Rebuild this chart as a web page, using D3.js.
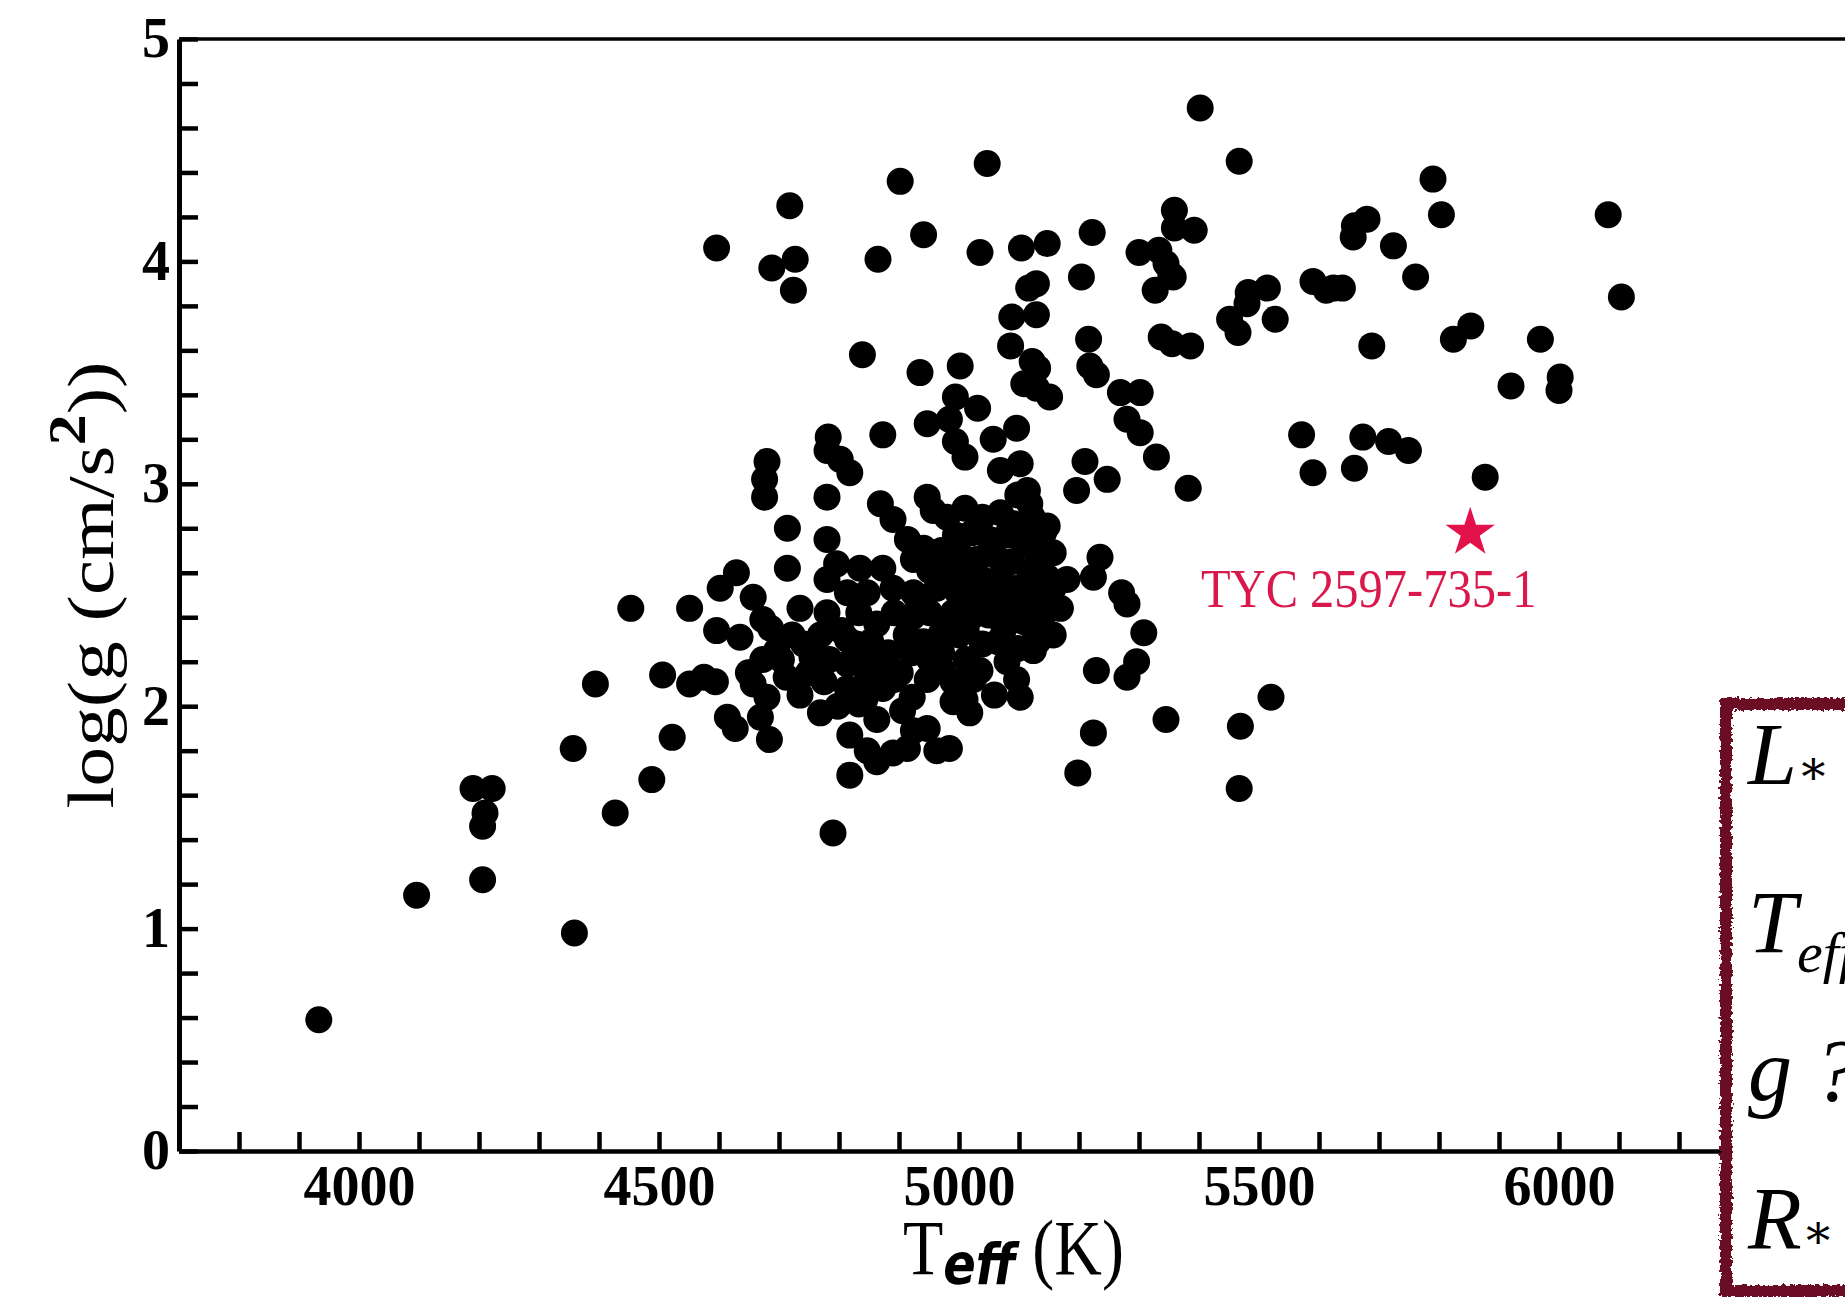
<!DOCTYPE html>
<html>
<head>
<meta charset="utf-8">
<script src="https://cdn.jsdelivr.net/npm/d3@7"></script>
<style>
  html, body { margin: 0; padding: 0; background: #fff; }
  svg { display: block; }
  .tick text { font-family: "Liberation Serif", "Times New Roman", serif; font-weight: bold; font-size: 56px; fill: #000; }
  .tick line { stroke: #000; stroke-width: 4.5px; }
  .domain { stroke: #000; }
</style>
</head>
<body>
<svg id="chart" width="1845" height="1297"></svg>
<script>
// sample stars: effective temperature (K) and surface gravity log g
const teff = [
  3933, 4096, 4206, 4359, 4190, 4222, 4210, 4206, 4357, 4394, 4427, 4488, 4522, 4453, 4506, 4551,
  4551, 4575, 4594, 4596, 4602, 4614, 4627, 4629, 4635, 4669, 4684, 4657, 4673, 4680, 4676, 4676,
  4714, 4714, 4596, 4718, 4688, 4727, 4724, 4782, 4780, 4802, 4818, 4780, 4780, 4796, 4790, 4769,
  4839, 4873, 4869, 4902, 4941, 4865, 4935, 4947, 4994, 4984, 5031, 4994, 5010, 5002, 5057, 5096,
  5102, 5069, 5114, 5118, 5047, 5035, 5086, 5088, 5104, 5116, 5129, 5129, 5147, 5129, 5151, 5122,
  5131, 5108, 5204, 5222, 5216, 5218, 5229, 5210, 5247, 5196, 5269, 5302, 5280, 5302, 5329, 5382,
  5300, 5333, 5345, 5353, 5359, 5359, 5392, 5327, 5357, 5337, 5355, 5386, 5402, 5467, 5451, 5465,
  5482, 5480, 5514, 5527, 5571, 5590, 5590, 5612, 5624, 5639, 5657, 5659, 5680, 5724, 5688, 5673,
  5716, 5749, 5659, 5761, 5790, 5804, 5824, 5853, 5877, 5920, 5969, 6002, 6000, 6082, 6104, 5469,
  5467, 5520, 5345, 5224, 5198, 5229, 5296, 5280, 5308, 5271, 5280, 5235, 5224, 5180, 5169, 5141,
  5124, 5080, 5096, 5102, 5012, 5035, 5024, 5018, 5012, 5075, 5124, 4947, 4947, 4973, 4990, 4906,
  4924, 4947, 4963, 4984, 4914, 4847, 4863, 4847, 4818, 4863, 4890, 4814, 4814, 4814,
  // dense clump
  4890, 4914, 4924, 4835, 4873, 4780, 4814, 4847, 4890, 4924, 4963, 4990, 4735, 4780, 4947, 4957,
  4980, 5010, 5039, 5069, 5092, 5122, 5147, 4994, 5022, 5051, 5080, 5108, 5131, 5157, 4971, 5000,
  5029, 5059, 5088, 5118, 5147, 4980, 5010, 5039, 5069, 5098, 5127, 5157, 5000, 5029, 5059, 5088,
  5118, 5147, 5020, 5049, 5078, 5108, 4941, 4951, 4892, 4863, 4833, 4804, 4853, 4882, 4912, 4902,
  4873, 4922, 4784, 4833, 4775, 4798, 4818, 4843, 4941, 4971, 5000, 5039, 5065, 5098, 5059, 5010,
  4951, 4971, 4922, 4931, 5157, 5131, 5098, 5127,
  4829, 4892, 4951, 4863, 4922, 4990, 4833,
  4649, 4657, 4680, 4686, 4696, 4704, 4712, 4722, 4741, 4749, 4755, 4769, 4735, 4673
];
const logg = [
  0.59, 1.15, 1.22, 0.98, 1.63, 1.63, 1.52, 1.46, 1.81, 2.10, 1.52, 1.67, 1.86, 2.44, 2.14, 2.44,
  2.10, 2.13, 2.11, 2.34, 2.53, 1.95, 1.90, 2.60, 2.31, 1.95, 1.85, 2.49, 2.39, 3.10, 3.02, 2.94,
  2.80, 2.62, 4.06, 4.25, 3.97, 4.01, 3.87, 3.21, 3.15, 3.11, 3.05, 2.94, 2.75, 2.64, 1.43, 1.97,
  3.58, 3.22, 2.91, 4.36, 4.12, 4.01, 3.50, 3.27, 3.39, 3.29, 3.34, 3.19, 3.12, 3.53, 3.20, 3.25,
  3.09, 3.06, 2.97, 2.91, 4.44, 4.04, 3.62, 3.75, 4.06, 3.88, 3.90, 3.76, 4.08, 3.43, 3.39, 3.55,
  3.52, 3.45, 3.93, 4.13, 3.65, 3.53, 3.49, 3.10, 3.02, 2.97, 3.41, 3.41, 3.29, 3.23, 3.12, 2.98,
  4.04, 4.05, 3.99, 3.94, 4.23, 4.15, 4.14, 3.87, 3.93, 3.66, 3.63, 3.62, 4.69, 4.45, 3.74, 3.68,
  3.86, 3.81, 3.88, 3.74, 3.22, 3.05, 3.91, 3.87, 3.88, 3.88, 4.11, 4.16, 4.19, 4.07, 3.62, 3.21,
  3.19, 3.15, 3.07, 3.93, 4.37, 4.21, 3.65, 3.71, 3.03, 3.44, 3.65, 3.48, 3.42, 4.21, 3.84, 1.91,
  1.63, 2.04, 1.94, 1.88, 1.70, 2.16, 2.20, 2.13, 2.33, 2.51, 2.46, 2.67, 2.58, 2.57, 2.44, 2.78,
  2.25, 2.20, 2.12, 2.04, 2.21, 2.16, 2.12, 1.97, 2.34, 2.35, 2.35, 2.28, 2.12, 2.16, 2.02, 1.98,
  1.89, 1.90, 1.80, 1.81, 1.81, 2.12, 1.94, 1.80, 1.69, 1.75, 1.79, 2.30, 2.19, 2.08,
  // dense clump
  2.84, 2.75, 2.66, 2.62, 2.62, 2.57, 2.51, 2.51, 2.53, 2.51, 2.53, 2.42, 2.44, 2.42, 2.94, 2.88,
  2.85, 2.89, 2.85, 2.87, 2.82, 2.85, 2.81, 2.77, 2.78, 2.75, 2.77, 2.73, 2.68, 2.69, 2.70, 2.69,
  2.66, 2.68, 2.65, 2.60, 2.58, 2.60, 2.58, 2.57, 2.58, 2.53, 2.50, 2.53, 2.50, 2.48, 2.49, 2.45,
  2.42, 2.43, 2.40, 2.41, 2.37, 2.38, 2.71, 2.61, 2.42, 2.37, 2.42, 2.34, 2.29, 2.24, 2.32, 2.15,
  2.08, 2.04, 2.21, 2.21, 2.11, 2.00, 1.87, 2.03, 2.29, 2.24, 2.32, 2.28, 2.29, 2.26, 2.05, 2.03,
  2.42, 2.33, 2.40, 2.48, 2.32, 2.29, 2.95, 2.76,
  2.28, 2.12, 2.21, 2.19, 2.24, 2.11, 2.01,
  2.15, 2.10, 2.04, 2.35, 2.25, 2.21, 2.13, 2.32, 2.28, 2.15, 2.22, 2.32, 2.05, 2.21
];

// the highlighted target
const targetName = 'TYC 2597-735-1';
const targetTeff = 5852;
const targetLogg = 2.78;

const xTicks = d3.range(3700, 6800, 100);
const yTicks = d3.range(0, 26).map(i => i / 5);

// text of the cut-off box at the right
const boxRows = [
  { main: 'L', tail: '\u2217', sub: false },
  { main: 'T', tail: 'eff', sub: true },
  { main: 'g', tail: ' ?', sub: false },
  { main: 'R', tail: '\u2217', sub: false }
];

const svg = d3.select('#chart');
const W = 1845, H = 1297;
svg.append('rect').attr('width', W).attr('height', H).attr('fill', '#fff');

const x = d3.scaleLinear().domain([3700, 6700]).range([179, 1979]);
const y = d3.scaleLinear().domain([0, 5]).range([1151, 39]);

// top frame line
svg.append('line')
  .attr('x1', x(3700)).attr('x2', W)
  .attr('y1', y(5)).attr('y2', y(5))
  .attr('stroke', '#000').attr('stroke-width', 3.5);

const xAxis = d3.axisBottom(x)
  .tickValues(xTicks)
  .tickSizeInner(-19)
  .tickSizeOuter(0)
  .tickPadding(14)
  .tickFormat(d => d % 500 === 0 ? d : '');
svg.append('g')
  .attr('class', 'x-axis')
  .attr('transform', `translate(0, ${y(0)})`)
  .call(xAxis)
  .select('.domain').attr('stroke-width', 4.5);

const yAxis = d3.axisLeft(y)
  .tickValues(yTicks)
  .tickSizeInner(-19)
  .tickSizeOuter(0)
  .tickPadding(9)
  .tickFormat(d => Number.isInteger(d) ? d : '');
const yG = svg.append('g')
  .attr('class', 'y-axis')
  .attr('transform', `translate(${x(3700)}, 0)`)
  .call(yAxis);
yG.select('.domain').attr('stroke-width', 5);

// axis titles
const yTitle = svg.append('text')
  .attr('transform', 'translate(113, 585) rotate(-90) scale(1.2, 1)')
  .attr('text-anchor', 'middle')
  .style('font-family', '"Liberation Serif", serif')
  .style('font-size', '66px');
yTitle.append('tspan').text('log(g (cm/s');
yTitle.append('tspan').attr('dy', -28).style('font-weight', 'bold').style('font-size', '52px').text('2');
yTitle.append('tspan').attr('dy', 28).text('))');

const xTitle = svg.append('text')
  .attr('transform', 'translate(903, 1274) scale(1, 1.2)')
  .style('font-family', '"Liberation Serif", serif')
  .style('font-size', '66px');
xTitle.append('tspan').text('T');
xTitle.append('tspan').attr('dy', 8)
  .style('font-family', '"DejaVu Sans", sans-serif')
  .style('font-weight', 'bold').style('font-style', 'italic')
  .style('font-size', '48px').text('eff');
xTitle.append('tspan').attr('dy', -8).text('\u00a0(K)');

// points
const points = teff.map((t, i) => ({ t: t, g: logg[i] }));
svg.append('g').attr('id', 'dots')
  .selectAll('circle')
  .data(points)
  .join('circle')
  .attr('cx', d => x(d.t))
  .attr('cy', d => y(d.g))
  .attr('r', 13.5)
  .attr('fill', '#000');

// target star + label
svg.append('path')
  .attr('d', d3.symbol(d3.symbolStar, 760)())
  .attr('transform', `translate(${x(targetTeff)}, ${y(targetLogg)})`)
  .attr('fill', '#e3124b');
svg.append('text')
  .attr('transform', 'translate(1201, 607) scale(1, 1.12)')
  .style('font-family', '"Liberation Serif", serif')
  .style('font-size', '48.5px')
  .attr('fill', '#d9194c')
  .text(targetName);

// rough-edged info box, cut by the right and bottom edges
const defs = svg.append('defs');
const filt = defs.append('filter').attr('id', 'rough')
  .attr('x', '-5%').attr('y', '-5%').attr('width', '110%').attr('height', '110%');
filt.append('feTurbulence').attr('type', 'fractalNoise').attr('baseFrequency', 0.3)
  .attr('numOctaves', 2).attr('seed', 3).attr('result', 'noise');
filt.append('feDisplacementMap').attr('in', 'SourceGraphic').attr('in2', 'noise')
  .attr('scale', 7).attr('xChannelSelector', 'R').attr('yChannelSelector', 'G');

svg.append('rect')
  .attr('x', 1726).attr('y', 704).attr('width', 300).attr('height', 587)
  .attr('fill', '#fff');
svg.append('rect')
  .attr('x', 1726).attr('y', 704).attr('width', 300).attr('height', 587)
  .attr('fill', 'none').attr('stroke', '#6c0b25').attr('stroke-width', 12)
  .attr('filter', 'url(#rough)');

const rowY = [784, 952, 1100, 1248];
boxRows.forEach((r, i) => {
  const t = svg.append('text')
    .attr('x', 1748).attr('y', rowY[i])
    .style('font-family', '"Liberation Serif", serif')
    .style('font-style', 'italic')
    .style('font-size', '88px');
  t.append('tspan').text(r.main);
  if (r.sub) {
    t.append('tspan').attr('dy', 20).style('font-size', '58px').text(r.tail);
  } else if (r.tail === '\u2217') {
    t.append('tspan').style('font-style', 'normal')
      .style('font-family', '"DejaVu Serif", serif').style('font-size', '48px').text(r.tail);
  } else {
    t.append('tspan').text(r.tail);
  }
});
</script>
</body>
</html>
